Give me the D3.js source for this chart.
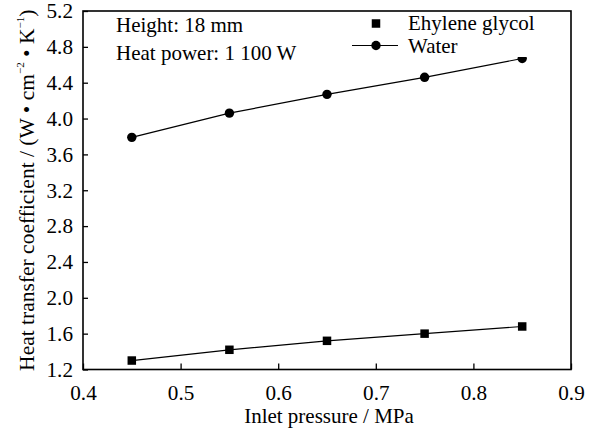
<!DOCTYPE html>
<html>
<head>
<meta charset="utf-8">
<script src="https://cdn.jsdelivr.net/npm/d3@7"></script>
<style>
  html, body { margin: 0; padding: 0; background: #fff; }
  svg { display: block; }
  svg text { font-family: "Liberation Serif", "Times New Roman", serif !important; fill: #000; }
</style>
</head>
<body>
<svg id="chart" width="595" height="432"></svg>
<script>
// Inlet pressure (MPa) on the x axis
const pressure = [0.45, 0.55, 0.65, 0.75, 0.85];
// Heat transfer coefficient, W·cm^-2·K^-1
const ethyleneGlycol = [1.30, 1.42, 1.52, 1.60, 1.68];
const water = [3.79, 4.06, 4.27, 4.46, 4.67];
// Axis ticks
const xTicks = [0.4, 0.5, 0.6, 0.7, 0.8, 0.9];
const yTicks = [1.2, 1.6, 2.0, 2.4, 2.8, 3.2, 3.6, 4.0, 4.4, 4.8, 5.2];
const notes = ["Height: 18 mm", "Heat power: 1 100 W"];
const seriesNames = ["Ehylene glycol", "Water"];

const svg = d3.select("#chart");
const m = { left: 83, right: 571, top: 11, bottom: 369.5 };
const fs = 21;       // titles, notes, legend
const tickFs = 20;   // tick labels (set a little wide)
const tickStretch = 1.06;
const serif = '"Liberation Serif", "Times New Roman", serif';

const x = d3.scaleLinear().domain([0.4, 0.9]).range([m.left, m.right]);
const y = d3.scaleLinear().domain([1.2, 5.2]).range([m.bottom, m.top]);

// Axes with inward ticks
const xAxis = svg.append("g").attr("transform", `translate(0,${m.bottom})`)
  .call(d3.axisBottom(x).tickValues(xTicks).tickFormat(d3.format(".1f"))
    .tickSizeInner(-6).tickSizeOuter(0));
xAxis.attr("font-family", serif).attr("font-size", tickFs);
xAxis.select(".domain").remove();
xAxis.selectAll("line").attr("stroke", "#000").attr("stroke-width", 1.3);
xAxis.selectAll("text").style("font-size", tickFs + "px")
  .attr("dy", "0").attr("y", 0)
  .attr("transform", `translate(0,30) scale(${tickStretch},1)`);

const yAxis = svg.append("g").attr("transform", `translate(${m.left},0)`)
  .call(d3.axisLeft(y).tickValues(yTicks).tickFormat(d3.format(".1f"))
    .tickSizeInner(-5).tickSizeOuter(0));
yAxis.attr("font-family", serif).attr("font-size", tickFs);
yAxis.select(".domain").remove();
yAxis.selectAll("line").attr("stroke", "#000").attr("stroke-width", 1.3);
yAxis.selectAll("text").style("font-size", tickFs + "px")
  .attr("x", 0).attr("dy", "0.34em")
  .attr("transform", `translate(-10,0) scale(${tickStretch},1)`);

// Frame
svg.append("rect")
  .attr("x", m.left).attr("y", m.top)
  .attr("width", m.right - m.left).attr("height", m.bottom - m.top)
  .attr("fill", "none").attr("stroke", "#000").attr("stroke-width", 1.6);

const line = d3.line().x((d, i) => x(pressure[i])).y(d => y(d));

// Water series
svg.append("path").datum(water).attr("d", line)
  .attr("fill", "none").attr("stroke", "#000").attr("stroke-width", 1.2);
svg.selectAll(".pt-water").data(water).enter().append("circle")
  .attr("class", "pt-water")
  .attr("cx", (d, i) => x(pressure[i])).attr("cy", d => y(d)).attr("r", 4.7)
  .attr("fill", "#000");

// Ethylene glycol series
svg.append("path").datum(ethyleneGlycol).attr("d", line)
  .attr("fill", "none").attr("stroke", "#000").attr("stroke-width", 1.2);
const sq = 8.5;
svg.selectAll(".pt-eg").data(ethyleneGlycol).enter().append("rect")
  .attr("class", "pt-eg")
  .attr("x", (d, i) => x(pressure[i]) - sq / 2).attr("y", d => y(d) - sq / 2)
  .attr("width", sq).attr("height", sq).attr("fill", "#000");

// Legend (opaque box)
const lg = svg.append("g");
lg.append("rect").attr("x", 345).attr("y", m.top + 1.5)
  .attr("width", 222).attr("height", 57 - m.top - 1.5).attr("fill", "#fff");
lg.append("rect").attr("x", 376 - sq / 2).attr("y", 23.5 - sq / 2)
  .attr("width", sq).attr("height", sq).attr("fill", "#000");
lg.append("line").attr("x1", 352).attr("x2", 398).attr("y1", 45.5).attr("y2", 45.5)
  .attr("stroke", "#000").attr("stroke-width", 1.2);
lg.append("circle").attr("cx", 376).attr("cy", 45.5).attr("r", 4.7).attr("fill", "#000");
lg.selectAll("text.leg").data(seriesNames).enter().append("text")
  .attr("class", "leg").attr("x", 408).attr("y", (d, i) => 30 + i * 23)
  .style("font-size", fs + "px").text(d => d);

// Annotations
svg.selectAll("text.note").data(notes).enter().append("text")
  .attr("class", "note").attr("x", 116).attr("y", (d, i) => 32 + i * 28)
  .style("font-size", fs + "px").text(d => d);

// Axis titles
svg.append("text").attr("x", (m.left + m.right) / 2 + 2).attr("y", 423)
  .attr("text-anchor", "middle").style("font-size", fs + "px")
  .text("Inlet pressure / MPa");

const yl = svg.append("text")
  .attr("transform", `translate(34,${(m.top + m.bottom) / 2}) rotate(-90)`)
  .attr("text-anchor", "middle").style("font-size", "21.5px");
yl.append("tspan").text("Heat transfer coefficient / (W • cm");
yl.append("tspan").style("font-size", "11px").attr("dy", -10).text("−2");
yl.append("tspan").attr("dy", 10).text(" • K");
yl.append("tspan").style("font-size", "11px").attr("dy", -10).text("−1");
yl.append("tspan").attr("dy", 10).text(")");
</script>
</body>
</html>
